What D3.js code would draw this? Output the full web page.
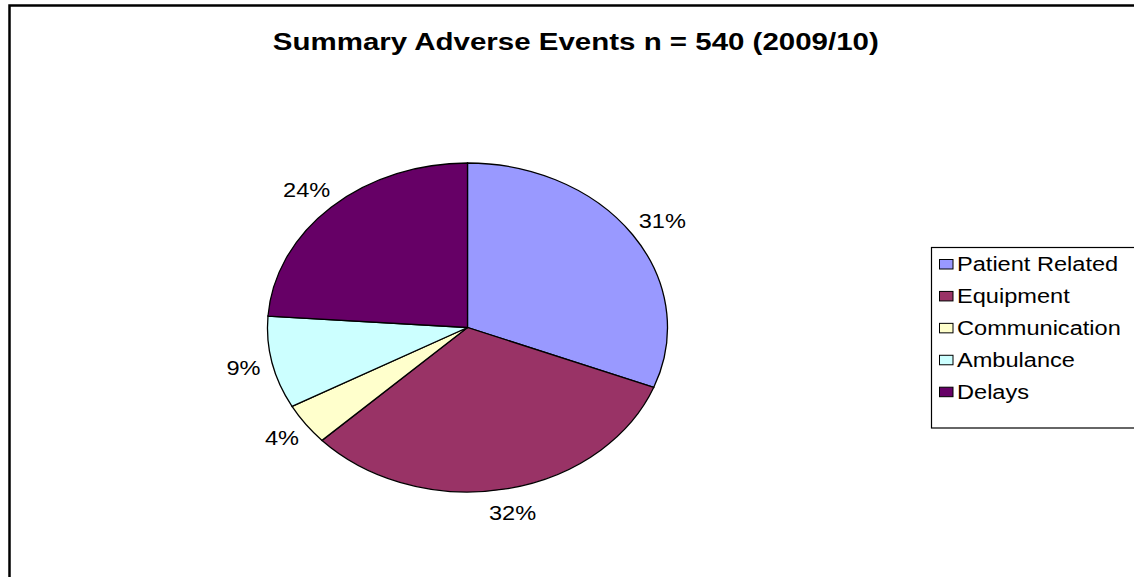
<!DOCTYPE html>
<html>
<head>
<meta charset="utf-8">
<script src="https://cdn.jsdelivr.net/npm/d3@7"></script>
<style>
  html, body { margin: 0; padding: 0; background: #fff; }
  svg { display: block; font-family: "Liberation Sans", Arial, sans-serif; }
</style>
</head>
<body>
<svg id="chart" width="1134" height="577"></svg>
<script>
// Adverse events by category, 2009/10 (n = 540)
const categories = ["Patient Related", "Equipment", "Communication", "Ambulance", "Delays"];
const counts = [167, 173, 22, 49, 129];
const colors = ["#9999FF", "#993366", "#FFFFCC", "#CCFFFF", "#660066"];
const titleText = "Summary Adverse Events n = 540 (2009/10)";

const svg = d3.select("#chart");
const total = d3.sum(counts);

// Outer chart frame (right and bottom edges fall outside the view)
svg.append("rect")
  .attr("x", 9.5).attr("y", 5.5)
  .attr("width", 1300).attr("height", 700)
  .attr("fill", "#fff")
  .attr("stroke", "#000").attr("stroke-width", 2.5);

// Title
svg.append("text")
  .attr("x", 575.8).attr("y", 50)
  .attr("text-anchor", "middle")
  .attr("font-size", 23).attr("font-weight", "bold")
  .attr("textLength", 606).attr("lengthAdjust", "spacingAndGlyphs")
  .text(titleText);

// Pie drawn as a circle and stretched horizontally into an ellipse
const cx = 467.5, cy = 327.5, R = 164.5, sx = 200 / 164.5;
const textScale = 1.21;

const pie = d3.pie().sort(null).value(d => d.value);
const arcs = pie(categories.map((c, i) => ({ name: c, value: counts[i], color: colors[i] })));
const arc = d3.arc().innerRadius(0).outerRadius(R);

const g = svg.append("g").attr("transform", `translate(${cx},${cy}) scale(${sx},1)`);
g.selectAll("path")
  .data(arcs)
  .join("path")
  .attr("d", arc)
  .attr("fill", d => d.data.color)
  .attr("stroke", "#000")
  .attr("stroke-width", 1.3)
  .attr("vector-effect", "non-scaling-stroke");

// Percentage labels placed just outside each slice, along its bisector
const labelFont = 19.5;
arcs.forEach(d => {
  const a = (d.startAngle + d.endAngle) / 2;
  const txt = Math.round(d.value / total * 100) + "%";
  const t = svg.append("text")
    .attr("font-size", labelFont)
    .attr("fill", "#000")
    .attr("text-anchor", "middle")
    .text(txt);
  const w = t.node().getComputedTextLength();
  const h = labelFont * 0.72;
  const px = (R + 10 + w / 2) * Math.sin(a);
  const py = -(R + 17 + h / 2) * Math.cos(a);
  const x = cx + px * sx;
  const y = cy + py + h / 2;
  t.attr("transform", `translate(${x},${y}) scale(${textScale},1)`);
});

// Legend
const legend = svg.append("g");
legend.append("rect")
  .attr("x", 931.5).attr("y", 247.5)
  .attr("width", 260).attr("height", 180.5)
  .attr("fill", "#fff")
  .attr("stroke", "#000").attr("stroke-width", 1.2);

const rowY = d3.scalePoint().domain(categories).range([264, 391.7]);
categories.forEach((c, i) => {
  const y = rowY(c);
  legend.append("rect")
    .attr("x", 939.5).attr("y", y - 4.5)
    .attr("width", 13.5).attr("height", 9.5)
    .attr("fill", colors[i])
    .attr("stroke", "#000").attr("stroke-width", 1);
  legend.append("text")
    .attr("transform", `translate(957,${y + 7}) scale(${textScale},1)`)
    .attr("font-size", labelFont)
    .attr("fill", "#000")
    .text(c);
});
</script>
</body>
</html>
